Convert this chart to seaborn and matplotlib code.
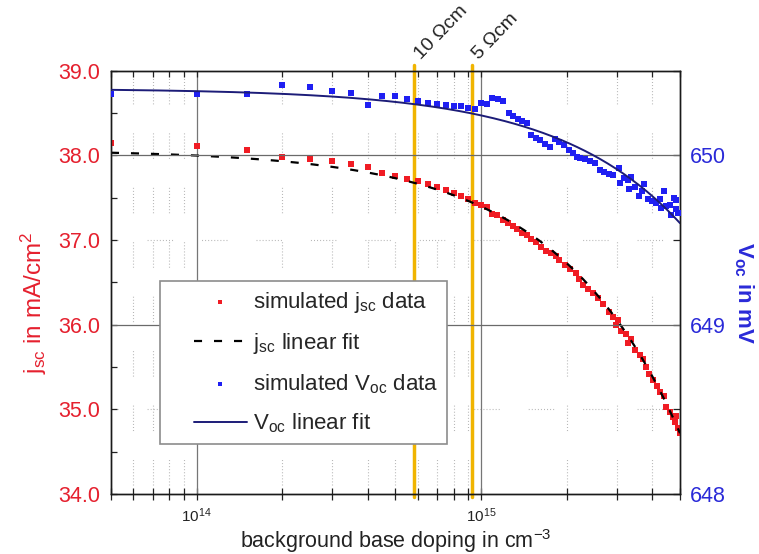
import numpy as np
import matplotlib
matplotlib.use("Agg")
import matplotlib.pyplot as plt
import matplotlib.transforms as mtransforms
from matplotlib.collections import PathCollection
from matplotlib.lines import Line2D
from matplotlib.legend_handler import HandlerLine2D, HandlerPathCollection
from matplotlib.ticker import (LogLocator, LogFormatterSciNotation, NullFormatter,
                               MultipleLocator, FormatStrFormatter)
import seaborn as sns

# Simulated short-circuit current density (mA/cm^2) vs. background base doping (cm^-3)
jsc_doping = [5e13, 1e14, 1.5e14, 2e14, 2.5e14, 3e14, 3.5e14, 4e14, 4.5e14, 5e14,
              5.5e14, 6e14, 6.5e14, 7e14, 7.5e14, 8e14, 8.5e14, 9e14, 9.5e14, 1.0e15,
              1.048e15, 1.095e15, 1.14e15, 1.193e15, 1.246e15, 1.294e15, 1.341e15, 1.396e15,
              1.449e15, 1.502e15, 1.555e15, 1.628e15, 1.695e15, 1.765e15, 1.827e15, 1.877e15,
              1.966e15, 2.047e15, 2.149e15, 2.21e15, 2.279e15, 2.373e15, 2.472e15, 2.574e15,
              2.68e15, 2.813e15, 2.906e15, 2.987e15, 3.026e15, 3.111e15, 3.239e15, 3.281e15,
              3.373e15, 3.463e15, 3.607e15, 3.705e15, 3.787e15, 3.89e15, 4.018e15, 4.15e15,
              4.266e15, 4.381e15, 4.477e15, 4.598e15, 4.723e15, 4.787e15, 4.854e15, 4.917e15,
              4.985e15]
jsc_values = [38.14, 38.11, 38.06, 37.98, 37.955, 37.93, 37.90, 37.86, 37.79, 37.75,
              37.72, 37.69, 37.655, 37.62, 37.585, 37.55, 37.52, 37.485, 37.44, 37.41,
              37.385, 37.31, 37.29, 37.24, 37.20, 37.16, 37.125, 37.085,
              37.06, 37.01, 36.98, 36.92, 36.87, 36.84, 36.81, 36.76,
              36.70, 36.66, 36.61, 36.54, 36.47, 36.42, 36.37, 36.31,
              36.24, 36.15, 36.09, 36.00, 36.05, 35.92, 35.89, 35.78,
              35.83, 35.70, 35.64, 35.59, 35.50, 35.42, 35.35, 35.27,
              35.20, 35.16, 35.03, 34.97, 34.91, 34.85, 34.92, 34.78,
              34.72]

# Simulated open-circuit voltage (mV) vs. background base doping (cm^-3)
voc_doping = [5e13, 1e14, 1.5e14, 2e14, 2.5e14, 3e14, 3.5e14, 4e14, 4.5e14, 5e14,
              5.5e14, 6e14, 6.5e14, 7e14, 7.5e14, 8e14, 8.5e14, 9e14, 9.5e14, 1.0e15,
              1.048e15, 1.095e15, 1.147e15, 1.193e15, 1.249e15, 1.294e15, 1.345e15, 1.392e15,
              1.449e15, 1.502e15, 1.555e15, 1.615e15, 1.676e15, 1.741e15, 1.813e15, 1.877e15,
              1.954e15, 2.03e15, 2.102e15, 2.178e15, 2.219e15, 2.311e15, 2.406e15, 2.506e15,
              2.609e15, 2.701e15, 2.813e15, 2.906e15, 3.05e15, 3.067e15, 3.169e15, 3.281e15,
              3.307e15, 3.373e15, 3.463e15, 3.586e15, 3.687e15, 3.726e15, 3.857e15, 3.998e15,
              4.129e15, 4.266e15, 4.3e15, 4.391e15, 4.477e15, 4.598e15, 4.661e15, 4.749e15,
              4.827e15, 4.854e15, 4.917e15]
voc_values = [650.364, 650.364, 650.364, 650.417, 650.400, 650.379, 650.368, 650.299, 650.352, 650.352,
              650.329, 650.320, 650.311, 650.305, 650.299, 650.293, 650.289, 650.279, 650.272, 650.309,
              650.301, 650.340, 650.334, 650.319, 650.250, 650.232, 650.216, 650.204,
              650.193, 650.118, 650.102, 650.087, 650.069, 650.047, 650.094, 650.078,
              650.059, 650.033, 650.014, 649.990, 649.981, 649.975, 649.966, 649.955,
              649.912, 649.902, 649.892, 649.882, 649.922, 649.837, 649.868, 649.856,
              649.798, 649.872, 649.810, 649.758, 649.788, 649.829, 649.739, 649.730,
              649.715, 649.739, 649.691, 649.788, 649.699, 649.705, 649.646, 649.750,
              649.680, 649.735, 649.656]

# Linear fits: value = intercept + slope * doping
jsc_fit_intercept, jsc_fit_slope = 38.063, -6.69e-16
voc_fit_intercept, voc_fit_slope = 650.394, -1.59e-16

# Base resistivity markers
resistivity_labels = ["10 \u03a9cm", "5 \u03a9cm"]
resistivity_doping = [5.8e14, 9.3e14]

legend_labels = ["simulated j$_{sc}$ data", "j$_{sc}$ linear fit",
                 "simulated V$_{oc}$ data", "V$_{oc}$ linear fit"]

sns.set_theme(style="ticks")
plt.rcParams["font.family"] = ["Liberation Sans", "DejaVu Sans"]
plt.rcParams["mathtext.default"] = "regular"
plt.rcParams["lines.scale_dashes"] = False

RED = "#f01c24"
BLUE = "#1f1ff2"
NAVY = "#1c1c78"
GOLD = "#f0b400"
JSC_TEXT = "#e5202e"
VOC_TEXT = "#2a2ad8"
TEXT = "#222222"


class _ShiftedHandle:
    """Draw the legend key in the right part of the handle box only."""
    shift_frac = 0.32

    def create_artists(self, legend, orig_handle, xdescent, ydescent, width, height,
                       fontsize, trans):
        s = width * self.shift_frac
        return super().create_artists(legend, orig_handle, xdescent - s, ydescent,
                                      width - s, height, fontsize, trans)


class ShiftedLine(_ShiftedHandle, HandlerLine2D):
    pass


class ShiftedPoints(_ShiftedHandle, HandlerPathCollection):
    pass


fig = plt.figure(figsize=(7.59, 5.54), dpi=100)
ax = fig.add_axes([0.1462, 0.1083, 0.7497, 0.7644])
ax2 = ax.twinx()

ax.set_xscale("log")
ax.set_xlim(5e13, 5e15)
ax.set_ylim(34.0, 39.0)
ax2.set_ylim(648.0, 650.5)

ax.xaxis.set_major_locator(LogLocator(base=10, numticks=12))
ax.xaxis.set_minor_locator(LogLocator(base=10, subs=np.arange(2, 10), numticks=12))
ax.xaxis.set_major_formatter(LogFormatterSciNotation())
ax.xaxis.set_minor_formatter(NullFormatter())
ax.yaxis.set_major_locator(MultipleLocator(1.0))
ax.yaxis.set_minor_locator(MultipleLocator(0.5))
ax.yaxis.set_major_formatter(FormatStrFormatter("%.1f"))
ax2.yaxis.set_major_locator(MultipleLocator(1.0))
ax2.yaxis.set_minor_locator(MultipleLocator(0.5))
ax2.yaxis.set_major_formatter(FormatStrFormatter("%d"))


def dotted_segments(start_gap):
    """Fine dots grouped in short runs, separated by longer gaps (points)."""
    run, gap, on, off = 20.2, 19.4, 0.7, 1.5
    pattern = [on, off] * int(run // (on + off))
    pattern[-1] += gap
    period = sum(pattern)
    return (period - start_gap, pattern)


# Grid: fine dotted runs at minor x ticks and at left-axis odd values,
# solid lines at decades and at the right-axis major values
xmin, xmax = ax.get_xlim()
minor_x = [v for v in ax.xaxis.get_minorticklocs() if xmin < v < xmax]
major_x = [v for v in ax.xaxis.get_majorticklocs() if xmin < v < xmax]
for v in minor_x:
    ax.axvline(v, color="#b4b4b4", lw=0.8, ls=dotted_segments(6.5), zorder=0.5)
for v in major_x:
    ax.axvline(v, color="#767676", lw=0.9, zorder=0.6)
for v in [35.0, 37.0]:
    ax.axhline(v, color="#b4b4b4", lw=0.8, ls=dotted_segments(26.0), zorder=0.5)
for v in [649.0, 650.0]:
    ax2.axhline(v, color="#6a6a6a", lw=0.9, zorder=0.6)

# Resistivity markers
label_trans = mtransforms.offset_copy(ax.get_xaxis_transform(), fig=fig, x=10, y=0,
                                      units="dots")
for d, lab in zip(resistivity_doping, resistivity_labels):
    ax.axvline(d, ymin=-0.008, ymax=1.012, color=GOLD, lw=2.5, clip_on=False, zorder=2)
    ax.text(d, 1.018, lab, transform=label_trans, rotation=46,
            rotation_mode="anchor", ha="left", va="bottom", fontsize=14, color=TEXT)

# j_sc data and fit (left axis)
fit_doping = np.geomspace(5e13, 5e15, 300)
sns.scatterplot(x=jsc_doping, y=jsc_values, ax=ax, marker="s", s=16, color=RED,
                linewidth=0, label=legend_labels[0], zorder=4)
sns.lineplot(x=fit_doping, y=jsc_fit_intercept + jsc_fit_slope * fit_doping, ax=ax,
             color="black", lw=1.6, linestyle=(0, (5.8, 8.6)), estimator=None,
             label=legend_labels[1], zorder=5)

# V_oc data and fit (right axis)
sns.scatterplot(x=voc_doping, y=voc_values, ax=ax2, marker="s", s=16, color=BLUE,
                linewidth=0, label=legend_labels[2], zorder=4)
sns.lineplot(x=fit_doping, y=voc_fit_intercept + voc_fit_slope * fit_doping, ax=ax2,
             color=NAVY, lw=1.4, estimator=None, label=legend_labels[3], zorder=5)

for a in (ax, ax2):
    if a.get_legend() is not None:
        a.get_legend().remove()

h1, l1 = ax.get_legend_handles_labels()
h2, l2 = ax2.get_legend_handles_labels()
leg = ax2.legend(h1 + h2, l1 + l2, loc="lower left", bbox_to_anchor=(0.086, 0.118),
                 borderaxespad=0, frameon=True, fancybox=False, framealpha=1,
                 edgecolor="#8c8c8c", fontsize=16, handlelength=3.5,
                 handletextpad=0.3, borderpad=0.4, labelspacing=0.72, markerscale=0.7,
                 handler_map={Line2D: ShiftedLine(), PathCollection: ShiftedPoints()})
leg.get_frame().set_linewidth(1.2)
leg.set_zorder(10)

# Ticks and spines
ax.tick_params(axis="x", which="both", direction="inout", length=8, width=0.9,
               bottom=True, top=False, labelsize=11, pad=5, labelcolor=TEXT, color="#222")
ax2.xaxis.set_visible(True)
ax2.tick_params(axis="x", which="both", direction="in", length=4, width=0.9,
                bottom=False, top=True, labelbottom=False, labeltop=False, color="#222")
ax.tick_params(axis="y", which="both", direction="in", length=4, width=0.9,
               left=True, right=False, labelsize=15.5, pad=8, labelcolor=JSC_TEXT, color="#222")
ax2.tick_params(axis="y", which="both", direction="in", length=5, width=0.9,
                left=False, right=True, labelsize=15.5, pad=7, labelcolor=VOC_TEXT, color="#222")
for a in (ax, ax2):
    for sp in a.spines.values():
        sp.set_color("#1a1a1a")
        sp.set_linewidth(1.0)

# Axis labels
ax.set_xlabel("background base doping in cm$^{-3}$", fontsize=15.5, color=TEXT)
ax.xaxis.label.set(va="top")
ax.xaxis.set_label_coords(0.5, -0.079)
ax.set_ylabel("j$_{sc}$ in mA/cm$^{2}$", fontsize=17.5, color=JSC_TEXT)
ax.yaxis.label.set(ha="center", va="center", rotation_mode="default", rotation=90)
ax.yaxis.set_label_coords(-0.136, 0.451)
ax2.set_ylabel("V$_{oc}$ in mV", fontsize=16, color=VOC_TEXT, fontweight="bold")
ax2.yaxis.label.set(ha="center", va="center", rotation_mode="default", rotation=-90)
ax2.yaxis.set_label_coords(1.113, 0.475)

fig.savefig("out.png", dpi=100)
